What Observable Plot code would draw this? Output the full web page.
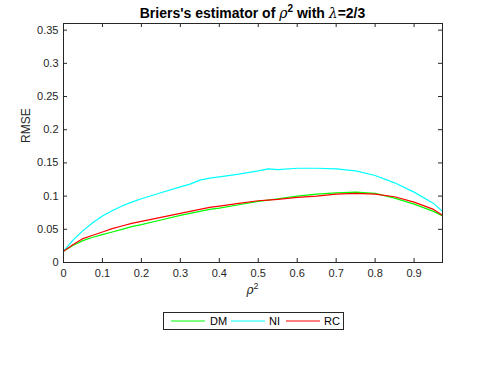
<!DOCTYPE html>
<html>
<head>
<meta charset="utf-8">
<script src="https://cdn.jsdelivr.net/npm/d3@7"></script>
<script src="https://cdn.jsdelivr.net/npm/@observablehq/plot@0.6"></script>
<style>
  html, body { margin: 0; padding: 0; background: #fff; }
  #fig { position: relative; width: 488px; height: 367px; background: #fff; font-family: "Liberation Sans", Arial, Helvetica, sans-serif; color: #262626; }
  #title { position: absolute; left: 43px; width: 419px; top: 5px; line-height: 16px; text-align: center; font-weight: bold; font-size: 14px; color: #000; white-space: nowrap; }
  #title sup { font-size: 10px; line-height: 0; }
  #chart { position: absolute; left: 0; top: 0; }
  #legendbox { position: absolute; left: 163px; top: 312px; }
</style>
</head>
<body>
<div id="fig">
  <div id="chart"></div>
  <div id="title">Briers's estimator of <i style="font-family:'DejaVu Serif',serif;font-weight:normal">ρ</i><sup>2</sup> with <i style="font-family:'DejaVu Serif',serif;font-weight:normal">λ</i>=2/3</div>
  <div id="legendbox"></div>
</div>
<script>
const rho2 = [0,0.025,0.05,0.075,0.1,0.125,0.15,0.175,0.2,0.25,0.3,0.325,0.35,0.375,0.4,0.45,0.5,0.525,0.55,0.6,0.65,0.7,0.75,0.8,0.85,0.9,0.95,0.973];
const dmValues = [0.017,0.026,0.033,0.038,0.042,0.046,0.050,0.054,0.057,0.064,0.071,0.074,0.077,0.080,0.082,0.087,0.092,0.094,0.096,0.100,0.103,0.105,0.106,0.104,0.097,0.088,0.077,0.070];
const niValues = [0.017,0.034,0.048,0.060,0.070,0.078,0.085,0.091,0.096,0.105,0.114,0.118,0.124,0.127,0.129,0.133,0.138,0.141,0.140,0.142,0.142,0.141,0.138,0.131,0.120,0.106,0.089,0.077];
const rcValues = [0.017,0.027,0.036,0.041,0.046,0.051,0.055,0.059,0.062,0.068,0.074,0.077,0.080,0.083,0.085,0.089,0.093,0.094,0.095,0.098,0.100,0.103,0.104,0.103,0.099,0.091,0.080,0.071];
const seriesNames = ["DM", "NI", "RC"];
const seriesColors = ["#00ff00", "#00ffff", "#ff0000"];
const xTicks = [0,0.1,0.2,0.3,0.4,0.5,0.6,0.7,0.8,0.9];
const yTicks = [0,0.05,0.1,0.15,0.2,0.25,0.3,0.35];

const allSeries = [dmValues, niValues, rcValues];
const rows = [];
allSeries.forEach((vals, s) => vals.forEach((v, i) => rows.push({x: rho2[i], y: v, series: seriesNames[s]})));

const W = 488, H = 300, mL = 63, mR = 46, mT = 23, mB = 38;
const innerW = W - mL - mR, innerH = H - mT - mB;
const tickLen = 4;
const axisColor = "#262626";

const chart = Plot.plot({
  width: W, height: H,
  marginLeft: mL, marginRight: mR, marginTop: mT, marginBottom: mB,
  style: {fontFamily: "'Liberation Sans', Arial, Helvetica, sans-serif", fontSize: "11px", color: axisColor, background: "#fff"},
  x: {domain: [0, 0.973]},
  y: {domain: [0, 0.36]},
  color: {domain: seriesNames, range: seriesColors},
  marks: [
    Plot.axisX(xTicks, {tickSize: 0, tickPadding: 7, tickFormat: d => d === 0 ? "0" : String(d), label: null, fill: axisColor, fontSize: 11}),
    Plot.axisY(yTicks, {tickSize: 0, tickPadding: 5, tickFormat: d => d === 0 ? "0" : String(d), label: null, fill: axisColor, fontSize: 11}),
    Plot.text(["RMSE"], {frameAnchor: "left", dx: -37, rotate: -90, fontSize: 12, fill: axisColor}),
    Plot.lineY(rows, {x: "x", y: "y", z: "series", stroke: "series", strokeWidth: 1.2}),
    Plot.tickX(xTicks, {x: d => d, insetTop: innerH - tickLen, stroke: axisColor}),
    Plot.tickX(xTicks, {x: d => d, insetBottom: innerH - tickLen, stroke: axisColor}),
    Plot.tickY(yTicks, {y: d => d, insetRight: innerW - tickLen, stroke: axisColor}),
    Plot.tickY(yTicks, {y: d => d, insetLeft: innerW - tickLen, stroke: axisColor}),
    Plot.frame({stroke: axisColor, strokeWidth: 1})
  ]
});
document.getElementById("chart").appendChild(chart);

// x label
const xl = document.createElement("div");
xl.style.cssText = "position:absolute;left:63px;width:379px;top:283px;line-height:14px;text-align:center;font-size:12px;";
xl.innerHTML = "<i style=\"font-family:'DejaVu Serif',serif\">ρ</i><sup style='font-size:9px;line-height:0'>2</sup>";
document.getElementById("fig").appendChild(xl);

// legend (SVG)
const swatchLeft = [7, 67, 122];
const textLeft = [46, 105, 160];
const ns = "http://www.w3.org/2000/svg";
const lsvg = document.createElementNS(ns, "svg");
lsvg.setAttribute("width", 181);
lsvg.setAttribute("height", 18);
lsvg.style.display = "block";
const box = document.createElementNS(ns, "rect");
box.setAttribute("x", 0.5); box.setAttribute("y", 0.5);
box.setAttribute("width", 180); box.setAttribute("height", 17);
box.setAttribute("fill", "#fff"); box.setAttribute("stroke", "#262626");
lsvg.appendChild(box);
seriesNames.forEach((name, i) => {
  const ln = document.createElementNS(ns, "line");
  ln.setAttribute("x1", swatchLeft[i] + 1); ln.setAttribute("x2", swatchLeft[i] + 35);
  ln.setAttribute("y1", 9); ln.setAttribute("y2", 9);
  ln.setAttribute("stroke", seriesColors[i]); ln.setAttribute("stroke-width", 1.2);
  lsvg.appendChild(ln);
  const t = document.createElementNS(ns, "text");
  t.setAttribute("x", textLeft[i] + 1); t.setAttribute("y", 13);
  t.setAttribute("font-size", 11);
  t.setAttribute("font-family", "'Liberation Sans', Arial, sans-serif");
  t.setAttribute("fill", "#000");
  t.textContent = name;
  lsvg.appendChild(t);
});
document.getElementById("legendbox").appendChild(lsvg);
</script>
</body>
</html>
